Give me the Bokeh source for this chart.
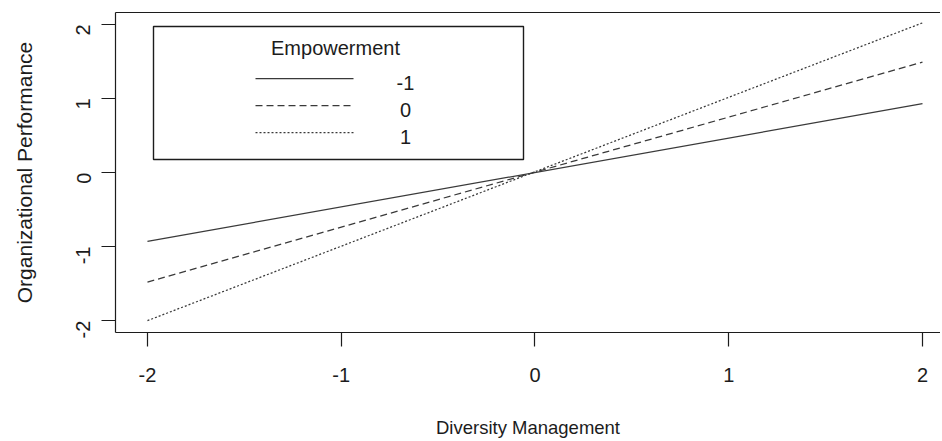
from bokeh.plotting import figure
from bokeh.models import (LinearAxis, FixedTicker, Range1d, BoxAnnotation, Label, Arrow)
from bokeh.embed import file_html
from bokeh.resources import INLINE
import numpy as np

# ---- data ----
diversity = [-2, 2]
emp_minus1 = [-0.93, 0.93]
emp_zero = [-1.48, 1.49]
emp_plus1 = [-2.00, 2.02]
series = [emp_minus1, emp_zero, emp_plus1]
legend_labels = ["-1", "0", "1"]
legend_title = "Empowerment"
dashes = ["solid", "7 4", "2 2"]
ticks = [-2, -1, 0, 1, 2]
tick_labels = ["-2", "-1", "0", "1", "2"]

FONT = "Liberation Sans"
INK = "#1c1c1c"
LINE = "#3a3a3a"

p = figure(width=940, height=440, output_backend="svg", toolbar_location=None,
           x_range=Range1d(-2.165, 2.093), y_range=Range1d(-2.16, 2.16),
           min_border_left=115, min_border_right=0, min_border_top=12, min_border_bottom=108,
           background_fill_color="white", border_fill_color="white")
p.outline_line_color = None
p.grid.visible = False

for ys, d in zip(series, dashes):
    p.line(diversity, ys, line_color=LINE, line_width=1.25, line_dash=d)

overrides = {t: s for t, s in zip(ticks, tick_labels)}
for ax in (p.xaxis[0], p.yaxis[0]):
    ax.ticker = FixedTicker(ticks=ticks)
    ax.major_label_overrides = overrides
    ax.major_tick_out = 14
    ax.major_tick_in = 0
    ax.minor_tick_line_color = None
    ax.axis_line_color = INK
    ax.axis_line_width = 1.2
    ax.major_tick_line_color = INK
    ax.major_tick_line_width = 1.2
    ax.major_label_text_font = FONT
    ax.major_label_text_font_size = "20px"
    ax.major_label_text_color = INK
    ax.axis_label_text_font = FONT
    ax.axis_label_text_font_style = "normal"
    ax.axis_label_text_color = INK

p.xaxis[0].axis_label = "Diversity Management"
p.xaxis[0].axis_label_text_font_size = "18.5px"
p.xaxis[0].major_label_standoff = 21
p.xaxis[0].axis_label_standoff = 32

p.yaxis[0].axis_label = "Organizational Performance"
p.yaxis[0].axis_label_text_font_size = "21px"
p.yaxis[0].major_label_orientation = np.pi / 2
p.yaxis[0].major_label_standoff = 18
p.yaxis[0].axis_label_standoff = 31

top = LinearAxis(ticker=FixedTicker(ticks=[]), major_tick_out=0, major_tick_in=0,
                 minor_tick_line_color=None, major_label_text_font_size="0px",
                 major_label_standoff=0, axis_line_color=INK, axis_line_width=1.2)
p.add_layout(top, "above")

# ---- legend (screen units relative to plot frame, y up) ----
p.add_layout(BoxAnnotation(left=38, right=408, bottom=173, top=306,
                           left_units="screen", right_units="screen",
                           bottom_units="screen", top_units="screen",
                           fill_color="white", fill_alpha=1.0,
                           line_color=INK, line_alpha=1.0, line_width=1.4, level="overlay"))
p.add_layout(Label(x=220, y=285, x_units="screen", y_units="screen", text=legend_title,
                   text_font=FONT, text_font_size="20px", text_color=INK,
                   text_align="center", text_baseline="middle", level="overlay"))
row_y = [254, 227, 200]
for lab, d, yy in zip(legend_labels, dashes, row_y):
    p.add_layout(Arrow(x_start=140, y_start=yy, x_end=238, y_end=yy,
                       start_units="screen", end_units="screen", end=None,
                       line_color=LINE, line_width=1.25, line_dash=d, level="overlay"))
    p.add_layout(Label(x=290, y=yy - 4, x_units="screen", y_units="screen", text=lab,
                       text_font=FONT, text_font_size="20px", text_color=INK,
                       text_align="center", text_baseline="middle", level="overlay"))

open("out.html", "w").write(file_html(p, INLINE))
